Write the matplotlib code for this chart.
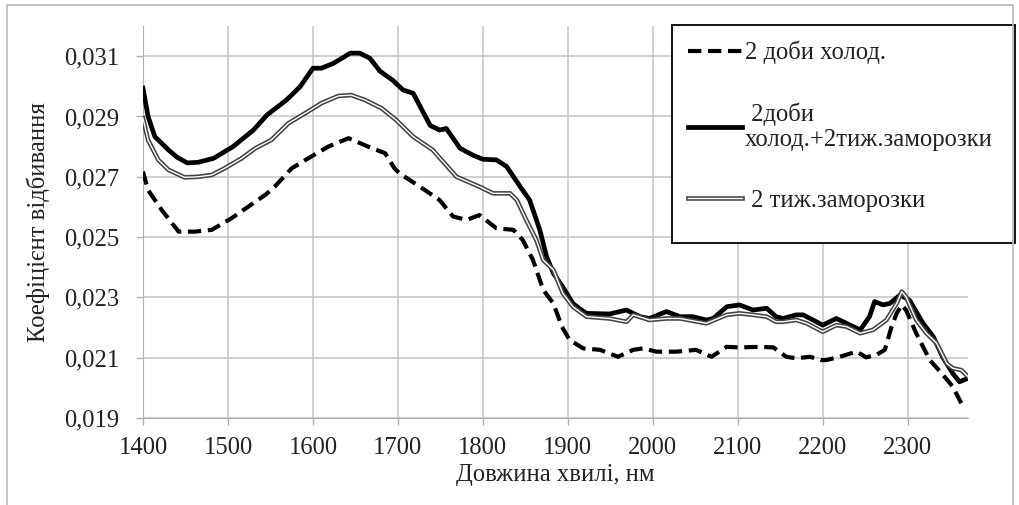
import matplotlib
matplotlib.use("Agg")
import matplotlib.pyplot as plt
import matplotlib.patheffects as pe
from matplotlib.patches import Rectangle
from matplotlib.ticker import FuncFormatter, MultipleLocator

plt.rcParams['font.family'] = ['Liberation Serif', 'DejaVu Serif']

# --- data (wavelength, nm / reflectance) ---
cold_wl = [1400, 1406, 1422, 1442, 1461, 1481, 1504, 1524, 1544, 1555, 1575, 1598,
           1618, 1642, 1665, 1685, 1696, 1702, 1726, 1749, 1765, 1781, 1796, 1816,
           1836, 1847, 1859, 1871, 1883, 1893, 1902, 1918, 1938, 1959, 1977, 1989,
           2004, 2028, 2051, 2069, 2087, 2102, 2126, 2142, 2157, 2169, 2185, 2198,
           2204, 2220, 2240, 2251, 2263, 2273, 2281, 2287, 2293, 2298, 2310, 2326,
           2340, 2353, 2363]
cold_val = [0.02717, 0.02656, 0.0259, 0.02518, 0.02518, 0.02524, 0.02562, 0.02601,
            0.0264, 0.02667, 0.02728, 0.02767, 0.0280, 0.02828, 0.0280, 0.02778,
            0.02728, 0.02711, 0.02667, 0.02623, 0.02568, 0.02557, 0.02573, 0.02529,
            0.02524, 0.0249, 0.02424, 0.02325, 0.0228, 0.02203, 0.02159, 0.02131,
            0.02126, 0.02103, 0.02126, 0.02131, 0.0212, 0.0212, 0.02126, 0.02103,
            0.02136, 0.02134, 0.02136, 0.02134, 0.02103, 0.02098, 0.02103, 0.02092,
            0.02092, 0.02103, 0.0212, 0.02101, 0.02109, 0.02126, 0.02203, 0.02247,
            0.02275, 0.02258, 0.02181, 0.02092, 0.02048, 0.02004, 0.01949]

both_wl = [1400, 1406, 1414, 1430, 1440, 1452, 1465, 1483, 1506, 1530, 1546, 1569,
           1585, 1600, 1610, 1624, 1644, 1655, 1667, 1679, 1694, 1706, 1718, 1738,
           1749, 1757, 1773, 1788, 1800, 1816, 1828, 1844, 1855, 1867, 1875, 1883,
           1894, 1906, 1914, 1922, 1949, 1969, 1985, 1996, 2016, 2032, 2047, 2063,
           2071, 2087, 2102, 2118, 2134, 2145, 2153, 2169, 2177, 2200, 2216, 2228,
           2244, 2255, 2261, 2271, 2279, 2291, 2302, 2318, 2330, 2341, 2353, 2361,
           2371]
both_val = [0.02994, 0.0290, 0.02833, 0.02789, 0.02765, 0.02746, 0.02748, 0.02761,
            0.0280, 0.02855, 0.02905, 0.02955, 0.02999, 0.0306, 0.0306, 0.03076,
            0.0311, 0.0311, 0.03093, 0.0305, 0.0302, 0.02988, 0.02977, 0.0287,
            0.02855, 0.0286, 0.02795, 0.02772, 0.02758, 0.02756, 0.02734, 0.02667,
            0.02623, 0.02524, 0.02435, 0.0238, 0.02335, 0.0228, 0.02262, 0.02247,
            0.02245, 0.02258, 0.02236, 0.0223, 0.02253, 0.02236, 0.02236, 0.02225,
            0.0223, 0.02269, 0.02275, 0.02258, 0.02264, 0.02236, 0.0223, 0.02242,
            0.02242, 0.02208, 0.0223, 0.02214, 0.02192, 0.02236, 0.02286, 0.02275,
            0.0228, 0.02308, 0.02291, 0.02214, 0.0217, 0.02103, 0.02048, 0.0202,
            0.02032]

frost_wl = [1400, 1406, 1418, 1430, 1449, 1465, 1481, 1496, 1516, 1532, 1551, 1571,
            1594, 1610, 1630, 1645, 1661, 1681, 1698, 1718, 1741, 1769, 1796, 1812,
            1832, 1840, 1851, 1863, 1871, 1883, 1894, 1906, 1922, 1949, 1969, 1977,
            1996, 2016, 2032, 2063, 2087, 2102, 2118, 2134, 2145, 2153, 2169, 2181,
            2200, 2216, 2228, 2244, 2259, 2275, 2287, 2293, 2298, 2310, 2322, 2334,
            2346, 2353, 2363, 2371]
frost_val = [0.02894, 0.02822, 0.02756, 0.02723, 0.02698, 0.0270, 0.02706, 0.02728,
             0.02761, 0.02794, 0.02822, 0.02877, 0.02916, 0.02944, 0.02968, 0.02971,
             0.02955, 0.02927, 0.02888, 0.02833, 0.02789, 0.0270, 0.02667, 0.02645,
             0.02645, 0.02623, 0.02557, 0.0249, 0.02424, 0.02391, 0.02314, 0.02269,
             0.02236, 0.0223, 0.02219, 0.02242, 0.02225, 0.0223, 0.0223, 0.02214,
             0.02242, 0.02247, 0.02242, 0.02236, 0.02219, 0.02219, 0.02225, 0.02214,
             0.02186, 0.02208, 0.02203, 0.02181, 0.02192, 0.02225, 0.0228, 0.02319,
             0.02302, 0.02225, 0.02181, 0.02148, 0.02081, 0.02065, 0.02059, 0.02037]

labels = ["2 доби холод.", " 2доби\nхолод.+2тиж.заморозки", " 2 тиж.заморозки"]

fig = plt.figure(figsize=(10.19, 5.05), dpi=100)
ax = fig.add_axes([0.1403, 0.1723, 0.8097, 0.7762])

ax.plot(cold_wl, cold_val, color='black', lw=3.0, dashes=(3.2, 1.6),
        dash_capstyle='butt', label=labels[0], zorder=3)
ax.plot(both_wl, both_val, color='black', lw=3.4, label=labels[1], zorder=4)
ax.plot(frost_wl, frost_val, color='white', lw=1.0, label=labels[2], zorder=5,
        path_effects=[pe.Stroke(linewidth=3.3, foreground='#444444'), pe.Normal()])

ax.set_xlim(1400, 2371)
ax.set_ylim(0.019, 0.032)
ax.xaxis.set_major_locator(MultipleLocator(100))
ax.set_yticks([0.019, 0.021, 0.023, 0.025, 0.027, 0.029, 0.031])
ax.yaxis.set_major_formatter(FuncFormatter(lambda v, p: f"{v:.3f}".replace('.', ',')))
ax.grid(True, color='#c4c4c4', lw=1.1)
ax.set_axisbelow(True)
for s in ['top', 'right']:
    ax.spines[s].set_visible(False)
for s in ['left', 'bottom']:
    ax.spines[s].set_color('#b0b0b0')
ax.tick_params(axis='both', colors='#b0b0b0', labelcolor='#222222', labelsize=17.7,
               length=5, width=1)
ax.tick_params(axis='y', pad=12)
ax.tick_params(axis='x', pad=9)

ax.set_xlabel("Довжина хвилі, нм", fontsize=17.7, color='#222222', labelpad=3)
ax.set_ylabel("Коефіцієнт відбивання", fontsize=17.7, color='#222222', labelpad=10)

# legend box drawn separately so its size matches the reference
ax.add_patch(Rectangle((672 / 1019, 1 - 243 / 505), 343 / 1019, 218 / 505,
                       transform=fig.transFigure, facecolor='white', clip_on=False,
                       edgecolor='black', lw=1.3, zorder=8))
leg = ax.legend(loc='upper left', bbox_to_anchor=(672 / 1019, 1 - 25 / 505, 343 / 1019, 0),
                bbox_transform=fig.transFigure, mode='expand', borderaxespad=0,
                fontsize=17.7, handlelength=2.2, handletextpad=0.12, labelspacing=1.55,
                borderpad=0.65, frameon=False)
leg.set_zorder(9)
for t in leg.get_texts():
    t.set_color('#222222')

# light frame around the whole chart
fig.patches.append(Rectangle((7 / 1019, -0.02), 1006 / 1019, 1.02 - 5 / 505,
                             transform=fig.transFigure, fill=False,
                             edgecolor='#b8b8b8', lw=1.2))

fig.savefig("out.png", dpi=100)
